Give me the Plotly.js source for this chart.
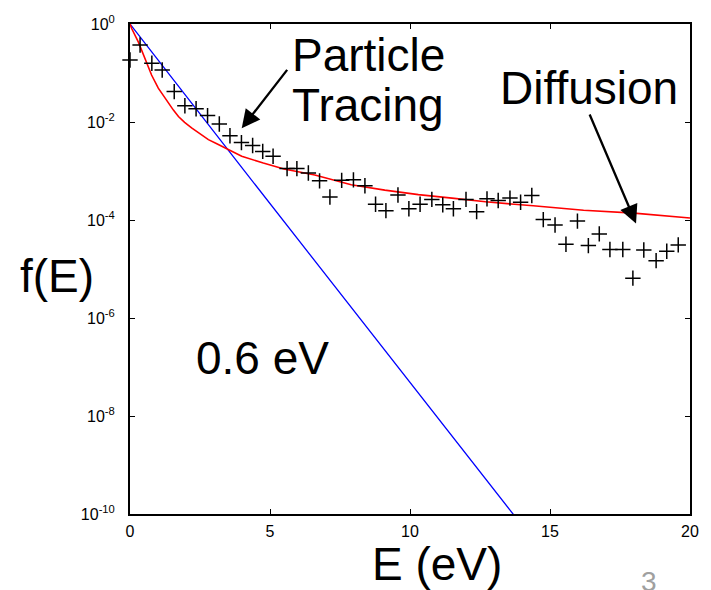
<!DOCTYPE html>
<html>
<head>
<meta charset="utf-8">
<script src="https://cdn.plot.ly/plotly-3.0.1.min.js"></script>
<style>
html,body{margin:0;padding:0;background:#fff;}
#chart{width:711px;height:590px;}
</style>
</head>
<body>
<div id="chart"></div>
<script>
// Particle tracing (Monte Carlo) points
const E_particle = [0, 0.36, 0.78, 1.15, 1.58, 1.96, 2.36, 2.77, 3.19, 3.57, 3.98, 4.38, 4.74, 5.11, 5.61, 5.96, 6.37, 6.77, 7.14, 7.56, 7.98, 8.39, 8.77, 9.14, 9.57, 9.96, 10.36, 10.78, 11.17, 11.55, 12.0, 12.38, 12.75, 13.15, 13.57, 13.95, 14.35, 14.76, 15.18, 15.57, 15.98, 16.37, 16.76, 17.14, 17.6, 17.96, 18.35, 18.79, 19.17, 19.58];
const f_particle = [0.1845, 0.373, 0.158, 0.115, 0.0417, 0.0214, 0.0186, 0.0135, 0.00912, 0.00525, 0.0038, 0.00331, 0.00251, 0.0020, 0.00112, 0.00112, 9.1e-4, 6.3e-4, 2.95e-4, 6.45e-4, 6.6e-4, 5.0e-4, 2.1e-4, 1.55e-4, 3.24e-4, 1.7e-4, 2.1e-4, 2.63e-4, 2.04e-4, 1.7e-4, 2.63e-4, 1.48e-4, 2.7e-4, 2.5e-4, 2.8e-4, 2.3e-4, 3.16e-4, 1.02e-4, 7.9e-5, 3.2e-5, 9.5e-5, 3.0e-5, 5.2e-5, 2.5e-5, 2.5e-5, 6.5e-6, 2.45e-5, 1.48e-5, 2.3e-5, 3.1e-5];

// Diffusion model curve (red)
const E_diffusion = [0, 0.06, 0.3, 0.54, 0.77, 1.01, 1.2, 1.37, 1.55, 1.73, 1.95, 2.2, 2.5, 2.8, 3.1, 3.39, 3.99, 4.76, 5.5, 6.6, 7.9, 9.1, 10.3, 11.5, 12.7, 14.4, 16.2, 18.0, 20];
const f_diffusion = [1, 0.81, 0.427, 0.19, 0.091, 0.049, 0.034, 0.024, 0.0175, 0.0129, 0.0098, 0.0076, 0.0057, 0.00437, 0.0036, 0.00295, 0.0020, 0.00145, 0.0011, 8.3e-4, 5.25e-4, 4.07e-4, 3.3e-4, 2.8e-4, 2.35e-4, 1.95e-4, 1.58e-4, 1.38e-4, 1.1e-4];

// 0.6 eV Maxwellian (blue)
const E_maxwell = [0, 4.1, 13.75];
const f_maxwell = [1, 9.8e-4, 8.9e-11];

// Tick labels
const xTickVals = [0, 5, 10, 15, 20];
const yTickVals = [1e-10, 1e-8, 1e-6, 1e-4, 1e-2, 1];
const yTickText = ['10<sup>-10</sup>', '10<sup>-8</sup>', '10<sup>-6</sup>', '10<sup>-4</sup>', '10<sup>-2</sup>', '10<sup>0</sup>'];

const traces = [
  {x: E_maxwell, y: f_maxwell, type: 'scatter', mode: 'lines',
   line: {color: '#0000ff', width: 1.3}, hoverinfo: 'skip'},
  {x: E_diffusion, y: f_diffusion, type: 'scatter', mode: 'lines',
   line: {color: '#ff0000', width: 1.6}, hoverinfo: 'skip'},
  {x: E_particle, y: f_particle, type: 'scatter', mode: 'markers',
   marker: {symbol: 'cross-thin-open', size: 11, color: '#000', line: {color: '#000', width: 1.5}},
   hoverinfo: 'skip', cliponaxis: false}
];

const font = 'Liberation Sans, Arial, sans-serif';
const big = {family: font, size: 46, color: '#000'};

const layout = {
  width: 711, height: 590,
  margin: {l: 130, r: 21, t: 24, b: 76, pad: 0},
  paper_bgcolor: '#fff', plot_bgcolor: '#fff',
  showlegend: false,
  font: {family: font, color: '#000'},
  xaxis: {
    range: [0, 20], tickvals: xTickVals, ticktext: xTickVals.map(String),
    ticks: 'inside', ticklen: 5, tickwidth: 1, tickcolor: '#000',
    showline: true, linewidth: 2, linecolor: '#000', mirror: 'ticks',
    showgrid: false, zeroline: false,
    tickfont: {family: font, size: 16, color: '#000'}, ticklabelstandoff: 2
  },
  yaxis: {
    type: 'log', range: [-10, 0], tickvals: yTickVals, ticktext: yTickText,
    ticks: 'inside', ticklen: 5, tickwidth: 1, tickcolor: '#000',
    showline: true, linewidth: 2, linecolor: '#000', mirror: 'ticks',
    showgrid: false, zeroline: false,
    tickfont: {family: font, size: 16, color: '#000'}, ticklabelstandoff: 10
  },
  annotations: [
    {text: 'Particle', xref: 'paper', yref: 'paper', x: 0.4259, y: 0.9367, xanchor: 'center', yanchor: 'middle', showarrow: false, font: big},
    {text: 'Tracing', xref: 'paper', yref: 'paper', x: 0.425, y: 0.8348, xanchor: 'center', yanchor: 'middle', showarrow: false, font: big},
    {text: 'Diffusion', xref: 'paper', yref: 'paper', x: 0.8188, y: 0.8694, xanchor: 'center', yanchor: 'middle', showarrow: false, font: big},
    {text: '0.6 eV', xref: 'paper', yref: 'paper', x: 0.2366, y: 0.319, xanchor: 'center', yanchor: 'middle', showarrow: false, font: big},
    {text: 'f(E)', xref: 'paper', yref: 'paper', x: -0.1304, y: 0.4862, xanchor: 'center', yanchor: 'middle', showarrow: false, font: big},
    {text: 'E (eV)', xref: 'paper', yref: 'paper', x: 0.549, y: -0.103, xanchor: 'center', yanchor: 'middle', showarrow: false, font: big},
    {text: '3', xref: 'paper', yref: 'paper', x: 0.9268, y: -0.1376, xanchor: 'center', yanchor: 'middle', showarrow: false, font: {family: font, size: 28, color: '#a0a0a0'}},
    {text: '', xref: 'paper', yref: 'paper', x: 0.1995, y: 0.787, ax: 46.6, ay: -60, showarrow: true, arrowhead: 2, arrowsize: 1.6, arrowwidth: 2.3, arrowcolor: '#000', standoff: 0},
    {text: '', xref: 'paper', yref: 'paper', x: 0.9036, y: 0.593, ax: -47, ay: -110.5, showarrow: true, arrowhead: 2, arrowsize: 1.6, arrowwidth: 2.3, arrowcolor: '#000', standoff: 0}
  ]
};

Plotly.newPlot('chart', traces, layout, {staticPlot: true, displayModeBar: false});
</script>
</body>
</html>
